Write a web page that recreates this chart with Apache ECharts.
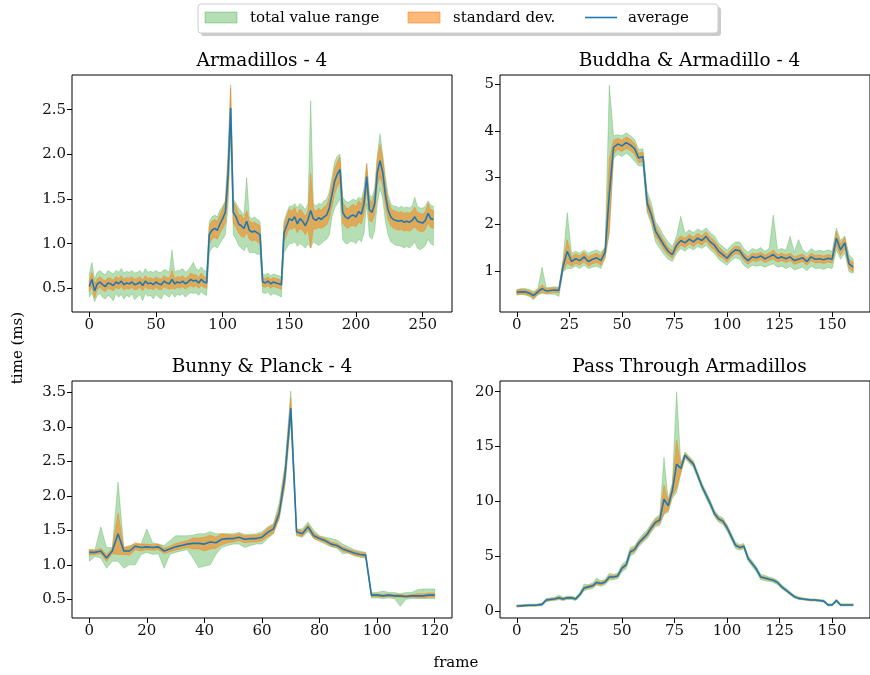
<!DOCTYPE html>
<html>
<head>
<meta charset="utf-8">
<script src="https://cdn.jsdelivr.net/npm/echarts@6/dist/echarts.min.js"></script>
<style>
html, body { margin: 0; padding: 0; background: #fff; }
#chart { width: 870px; height: 675px; }
</style>
</head>
<body>
<div id="chart"></div>
<script>
// every panel is sampled every 2 frames
const frameStep = 2;

// Armadillos - 4 (frames 0..258)
const armAvg = [0.52,0.60,0.47,0.55,0.57,0.54,0.52,0.56,0.55,0.53,0.57,0.55,0.58,0.54,0.56,0.55,0.57,0.54,0.55,0.57,0.53,0.58,0.55,0.56,0.54,0.57,0.55,0.54,0.58,0.56,0.55,0.60,0.55,0.57,0.56,0.58,0.55,0.57,0.60,0.58,0.59,0.56,0.60,0.57,0.56,
  1.10,1.15,1.17,1.15,1.22,1.28,1.35,1.75,2.52,1.35,1.30,1.22,1.20,1.17,1.25,1.15,1.13,1.14,1.12,1.10,
  0.57,0.56,0.58,0.55,0.57,0.56,0.55,0.54,
  1.12,1.20,1.28,1.26,1.30,1.22,1.28,1.25,1.20,1.27,1.37,1.28,1.26,1.29,1.27,1.30,1.32,1.40,1.55,1.70,1.78,1.83,1.35,1.30,1.28,1.31,1.32,1.30,1.36,1.33,1.45,1.75,1.38,1.35,1.45,1.80,1.93,1.80,1.55,1.38,1.30,1.27,1.26,1.25,1.26,1.24,1.25,1.24,1.26,1.30,1.25,1.24,1.23,1.26,1.34,1.28,1.27];
const armSd = [0.06,0.08,0.08,0.06,0.06,0.06,0.06,0.06,0.06,0.06,0.06,0.06,0.06,0.06,0.06,0.06,0.06,0.06,0.06,0.06,0.06,0.06,0.06,0.06,0.06,0.06,0.06,0.06,0.06,0.06,0.06,0.10,0.06,0.06,0.06,0.06,0.06,0.06,0.07,0.07,0.06,0.06,0.07,0.06,0.06,
  0.10,0.10,0.10,0.10,0.10,0.11,0.12,0.20,0.22,0.12,0.12,0.10,0.12,0.10,0.12,0.10,0.10,0.10,0.10,0.10,
  0.05,0.05,0.05,0.05,0.05,0.05,0.05,0.05,
  0.10,0.10,0.11,0.10,0.11,0.10,0.11,0.10,0.10,0.11,0.42,0.11,0.10,0.11,0.10,0.11,0.11,0.12,0.13,0.14,0.14,0.14,0.12,0.11,0.11,0.11,0.12,0.11,0.12,0.11,0.12,0.14,0.12,0.11,0.12,0.15,0.18,0.15,0.13,0.11,0.10,0.10,0.10,0.10,0.10,0.10,0.10,0.10,0.10,0.11,0.10,0.10,0.10,0.10,0.11,0.10,0.10];
const armMin = [0.40,0.45,0.35,0.42,0.44,0.40,0.38,0.42,0.40,0.36,0.44,0.40,0.43,0.38,0.42,0.40,0.44,0.37,0.40,0.43,0.36,0.44,0.41,0.42,0.38,0.43,0.40,0.38,0.44,0.42,0.40,0.45,0.40,0.43,0.42,0.44,0.40,0.43,0.45,0.44,0.45,0.42,0.46,0.43,0.42,
  0.90,0.95,0.97,0.95,1.00,1.05,1.10,1.40,2.20,1.10,1.05,0.98,0.95,0.92,0.98,0.90,0.90,0.90,0.88,0.88,
  0.45,0.44,0.46,0.42,0.44,0.43,0.42,0.40,
  0.90,0.95,1.00,1.00,1.02,0.97,1.00,0.98,0.95,1.00,0.95,1.02,1.00,0.98,1.00,1.03,1.05,1.10,1.30,1.40,1.45,1.50,1.05,1.00,1.00,1.03,1.02,1.00,1.05,1.02,1.12,1.45,1.08,1.05,1.15,1.45,1.62,1.50,1.25,1.10,1.02,1.00,0.98,0.98,0.97,0.95,0.97,0.95,0.98,1.02,0.95,0.93,0.95,0.98,1.05,1.00,0.98];
const armMax = [0.66,0.79,0.60,0.68,0.70,0.67,0.65,0.70,0.68,0.66,0.70,0.68,0.72,0.67,0.69,0.68,0.70,0.67,0.68,0.70,0.66,0.72,0.68,0.69,0.68,0.70,0.68,0.68,0.71,0.70,0.68,0.93,0.68,0.70,0.70,0.72,0.68,0.70,0.74,0.79,0.72,0.70,0.74,0.70,0.69,
  1.25,1.30,1.32,1.30,1.38,1.42,1.48,2.00,2.78,1.50,1.45,1.40,1.36,1.32,1.74,1.30,1.28,1.30,1.27,1.25,
  0.66,0.65,0.67,0.64,0.66,0.65,0.64,0.63,
  1.25,1.35,1.42,1.42,1.45,1.40,1.45,1.42,1.38,1.45,2.60,1.45,1.42,1.45,1.44,1.48,1.50,1.58,1.75,1.92,1.98,2.00,1.52,1.48,1.46,1.48,1.50,1.48,1.52,1.50,1.62,1.90,1.55,1.52,1.62,2.00,2.23,2.00,1.75,1.55,1.45,1.42,1.42,1.40,1.42,1.40,1.41,1.40,1.42,1.52,1.42,1.40,1.40,1.42,1.48,1.43,1.42];

// Buddha & Armadillo - 4 (frames 0..160)
const budAvg = [0.54,0.55,0.55,0.52,0.47,0.55,0.62,0.57,0.58,0.59,0.58,1.10,1.42,1.20,1.26,1.22,1.30,1.20,1.25,1.28,1.22,1.40,2.65,3.65,3.72,3.68,3.75,3.70,3.62,3.42,3.45,2.45,2.20,1.85,1.70,1.55,1.42,1.35,1.55,1.65,1.60,1.68,1.62,1.70,1.65,1.74,1.62,1.55,1.42,1.35,1.27,1.38,1.45,1.43,1.30,1.22,1.30,1.28,1.32,1.26,1.30,1.35,1.27,1.30,1.26,1.30,1.22,1.25,1.28,1.20,1.30,1.25,1.26,1.24,1.27,1.25,1.70,1.45,1.60,1.15,1.08];
const budSd = [0.05,0.05,0.05,0.05,0.06,0.05,0.08,0.05,0.05,0.05,0.05,0.10,0.25,0.10,0.10,0.10,0.10,0.10,0.10,0.10,0.10,0.12,0.75,0.15,0.12,0.12,0.12,0.12,0.12,0.10,0.10,0.15,0.12,0.12,0.10,0.10,0.08,0.08,0.10,0.10,0.10,0.10,0.10,0.10,0.10,0.10,0.10,0.10,0.10,0.08,0.08,0.08,0.08,0.08,0.08,0.08,0.08,0.08,0.08,0.08,0.08,0.10,0.08,0.08,0.08,0.08,0.08,0.08,0.08,0.08,0.08,0.08,0.08,0.08,0.08,0.08,0.15,0.12,0.12,0.10,0.10];
const budMin = [0.48,0.50,0.48,0.45,0.38,0.48,0.52,0.50,0.50,0.50,0.45,0.98,1.05,1.05,1.10,1.05,1.12,1.05,1.08,1.10,1.05,1.28,1.80,3.40,3.50,3.45,3.52,3.45,3.35,3.25,3.25,2.25,2.00,1.62,1.48,1.35,1.25,1.20,1.38,1.48,1.42,1.50,1.45,1.52,1.48,1.55,1.45,1.38,1.25,1.18,1.12,1.22,1.28,1.25,1.12,1.05,1.12,1.10,1.12,1.08,1.12,1.15,1.08,1.10,1.05,1.10,1.02,1.05,1.08,1.00,1.10,1.05,1.06,1.03,1.08,1.05,1.45,1.25,1.38,0.98,0.95];
const budMax = [0.60,0.62,0.62,0.60,0.56,0.62,1.08,0.64,0.65,0.66,0.64,1.25,2.25,1.38,1.42,1.38,1.45,1.38,1.42,1.45,1.40,1.50,4.98,3.90,3.92,3.90,3.96,3.90,3.82,3.60,3.62,2.70,2.45,2.05,1.92,1.75,1.62,1.52,1.75,2.17,1.80,1.88,1.82,1.90,1.85,1.92,1.82,1.75,1.60,1.52,1.45,1.55,1.62,1.62,1.48,1.40,1.48,1.45,1.50,1.42,1.48,2.20,1.45,1.48,1.44,1.74,1.40,1.67,1.45,1.38,1.48,1.42,1.44,1.42,1.45,1.42,1.92,1.65,1.75,1.35,1.25];

// Bunny & Planck - 4 (frames 0..120)
const bunAvg = [1.18,1.18,1.20,1.10,1.20,1.45,1.20,1.20,1.27,1.25,1.26,1.25,1.26,1.20,1.23,1.26,1.28,1.30,1.31,1.31,1.30,1.33,1.32,1.37,1.38,1.38,1.40,1.37,1.38,1.38,1.40,1.47,1.52,1.75,2.30,3.27,1.48,1.45,1.55,1.42,1.38,1.35,1.30,1.28,1.23,1.20,1.17,1.15,1.14,0.56,0.56,0.55,0.56,0.55,0.55,0.54,0.55,0.55,0.55,0.56,0.56];
const bunSd = [0.04,0.03,0.04,0.05,0.04,0.30,0.05,0.06,0.05,0.05,0.04,0.04,0.04,0.04,0.04,0.05,0.05,0.05,0.08,0.08,0.10,0.10,0.08,0.08,0.06,0.05,0.05,0.05,0.05,0.05,0.05,0.06,0.06,0.08,0.12,0.15,0.04,0.04,0.04,0.04,0.03,0.03,0.03,0.03,0.03,0.03,0.03,0.03,0.03,0.02,0.02,0.02,0.02,0.02,0.02,0.02,0.02,0.03,0.03,0.03,0.03];
const bunMin = [1.05,1.12,1.10,0.95,1.05,1.05,0.95,1.00,1.00,1.15,1.18,1.15,1.16,0.95,1.15,1.18,1.20,1.22,1.10,0.96,0.98,1.00,1.15,1.25,1.28,1.30,1.30,1.25,1.28,1.30,1.30,1.38,1.45,1.68,2.15,3.10,1.42,1.40,1.48,1.38,1.34,1.30,1.26,1.24,1.16,1.17,1.13,1.11,1.10,0.52,0.52,0.51,0.52,0.51,0.40,0.50,0.51,0.51,0.51,0.51,0.51];
const bunMax = [1.22,1.22,1.55,1.25,1.25,2.20,1.25,1.28,1.30,1.30,1.52,1.32,1.30,1.28,1.35,1.42,1.42,1.42,1.43,1.45,1.45,1.48,1.45,1.45,1.45,1.45,1.47,1.44,1.44,1.45,1.48,1.55,1.60,1.90,2.45,3.52,1.52,1.52,1.62,1.50,1.42,1.40,1.38,1.36,1.30,1.26,1.22,1.20,1.18,0.60,0.60,0.62,0.60,0.60,0.58,0.60,0.60,0.64,0.65,0.65,0.65];

// Pass Through Armadillos (frames 0..160)
const passAvg = [0.45,0.47,0.50,0.52,0.52,0.55,0.60,1.00,1.05,1.10,1.20,1.10,1.20,1.20,1.10,1.50,2.10,2.20,2.30,2.60,2.50,2.65,3.10,3.10,3.20,3.90,4.20,5.40,5.60,6.20,6.60,7.00,7.60,8.10,8.30,10.20,9.60,11.00,13.40,13.00,14.20,13.80,13.40,12.40,11.40,10.60,9.80,8.90,8.40,8.20,7.60,6.80,6.00,5.80,5.90,4.80,4.30,3.80,3.10,3.00,2.90,2.80,2.60,2.20,1.90,1.60,1.30,1.15,1.10,1.05,1.00,1.00,0.95,0.90,0.55,0.55,0.95,0.55,0.55,0.55,0.55];
const passSd = [0.06,0.06,0.06,0.06,0.06,0.06,0.06,0.08,0.08,0.08,0.10,0.08,0.08,0.08,0.08,0.10,0.12,0.12,0.12,0.15,0.12,0.12,0.15,0.12,0.12,0.15,0.15,0.18,0.18,0.18,0.20,0.20,0.25,0.25,0.30,1.30,0.40,0.50,2.20,0.35,0.20,0.18,0.18,0.15,0.15,0.15,0.15,0.15,0.15,0.15,0.15,0.15,0.12,0.12,0.12,0.12,0.10,0.10,0.10,0.10,0.08,0.08,0.08,0.08,0.08,0.08,0.06,0.06,0.06,0.06,0.06,0.06,0.06,0.06,0.05,0.05,0.08,0.05,0.05,0.05,0.05];
const passMin = [0.35,0.38,0.40,0.42,0.42,0.45,0.48,0.85,0.92,0.95,1.02,0.95,1.05,1.05,0.95,1.30,1.85,1.95,2.05,2.35,2.25,2.40,2.80,2.85,2.95,3.55,3.85,5.00,5.25,5.85,6.25,6.60,7.20,7.70,7.80,8.80,9.00,10.30,10.80,12.50,13.90,13.50,13.10,12.10,11.10,10.30,9.50,8.60,8.10,7.90,7.30,6.50,5.70,5.55,5.65,4.55,4.05,3.55,2.85,2.75,2.70,2.60,2.40,2.02,1.75,1.45,1.18,1.05,1.00,0.95,0.90,0.90,0.85,0.80,0.45,0.45,0.80,0.45,0.45,0.45,0.45];
const passMax = [0.55,0.58,0.60,0.62,0.62,0.65,0.72,1.15,1.20,1.25,1.45,1.25,1.35,1.35,1.25,1.70,2.45,2.40,2.55,3.00,2.75,2.90,3.45,3.35,3.45,4.25,4.55,5.80,5.95,6.55,7.00,7.40,8.00,8.50,8.80,14.00,10.20,11.70,20.00,13.50,14.50,14.10,13.70,12.70,11.70,10.90,10.10,9.20,8.70,8.50,7.90,7.10,6.30,6.05,6.15,5.05,4.55,4.05,3.35,3.25,3.10,3.00,2.80,2.40,2.10,1.75,1.45,1.30,1.20,1.15,1.10,1.10,1.05,1.00,0.65,0.65,1.10,0.65,0.65,0.65,0.65];

const titles = ['Armadillos - 4', 'Buddha & Armadillo - 4', 'Bunny & Planck - 4', 'Pass Through Armadillos'];
const xTicks = [[0,50,100,150,200,250], [0,25,50,75,100,125,150], [0,20,40,60,80,100,120], [0,25,50,75,100,125,150]];
const yTicks = [[0.5,1.0,1.5,2.0,2.5], [1,2,3,4,5], [0.5,1.0,1.5,2.0,2.5,3.0,3.5], [0,5,10,15,20]];
const legendNames = ['total value range', 'standard dev.', 'average'];

const FONT = 'DejaVu Serif';
const BLUE = '#1f77b4';
const GREEN_FILL = 'rgba(44,160,44,0.35)';
const ORANGE_FILL = 'rgba(255,127,14,0.55)';

const panels = [
  { avg: armAvg, sd: armSd, lo: armMin, hi: armMax, grid: [72, 75, 380, 237], x: [-12.95, 271.95], y: [0.234, 2.889], yDec: 1 },
  { avg: budAvg, sd: budSd, lo: budMin, hi: budMax, grid: [500, 75, 379, 237], x: [-8, 168], y: [0.118, 5.2], yDec: 0 },
  { avg: bunAvg, sd: bunSd, lo: bunMin, hi: bunMax, grid: [72, 381, 380, 237], x: [-6, 126], y: [0.229, 3.664], yDec: 1 },
  { avg: passAvg, sd: passSd, lo: passMin, hi: passMax, grid: [500, 381, 379, 237], x: [-8, 168], y: [-0.64, 20.98], yDec: 0 }
];

const chart = echarts.init(document.getElementById('chart'), null, { renderer: 'canvas' });

const grids = [], xAxes = [], yAxes = [], series = [];
const tickLabel = { fontFamily: FONT, fontSize: 15, color: '#111' };

// filled band between two value lists, drawn as one polygon through the axis scales
function band(k, frames, lower, upper, fill) {
  return {
    type: 'custom', xAxisIndex: k, yAxisIndex: k, silent: true, clip: true, animation: false,
    data: [[frames[0], lower[0]]],
    renderItem: (params, api) => {
      const pts = [];
      for (let i = 0; i < frames.length; i++) pts.push(api.coord([frames[i], upper[i]]));
      for (let i = frames.length - 1; i >= 0; i--) pts.push(api.coord([frames[i], lower[i]]));
      return { type: 'polygon', shape: { points: pts }, style: { fill: fill, stroke: fill, lineWidth: 0.8 } };
    }
  };
}

panels.forEach((p, k) => {
  const [gl, gt, gw, gh] = p.grid;
  grids.push({ left: gl, top: gt, width: gw, height: gh, show: true, borderColor: '#000', borderWidth: 1, backgroundColor: 'transparent' });
  xAxes.push({
    type: 'value', gridIndex: k, min: p.x[0], max: p.x[1],
    axisLine: { show: false, onZero: false }, splitLine: { show: false },
    axisTick: { show: true, length: 5, customValues: xTicks[k], lineStyle: { color: '#000' } },
    axisLabel: { customValues: xTicks[k], margin: 6, ...tickLabel }
  });
  yAxes.push({
    type: 'value', gridIndex: k, min: p.y[0], max: p.y[1],
    axisLine: { show: false, onZero: false }, splitLine: { show: false },
    axisTick: { show: true, length: 5, customValues: yTicks[k], lineStyle: { color: '#000' } },
    axisLabel: { customValues: yTicks[k], margin: 6, formatter: v => v.toFixed(p.yDec), ...tickLabel }
  });

  const fr = p.avg.map((v, i) => i * frameStep);
  const sdLo = p.avg.map((v, i) => v - p.sd[i]);
  const sdHi = p.avg.map((v, i) => v + p.sd[i]);
  series.push(band(k, fr, p.lo, p.hi, GREEN_FILL));
  series.push(band(k, fr, sdLo, sdHi, ORANGE_FILL));
  series.push({ type: 'line', xAxisIndex: k, yAxisIndex: k, symbol: 'none', silent: true, animation: false,
    data: p.avg.map((v, i) => [fr[i], v]), lineStyle: { color: BLUE, width: 1.6 } });
});

// titles as plain centred text
const titleTexts = panels.map((p, k) => ({
  type: 'text', x: p.grid[0] + p.grid[2] / 2, y: p.grid[1] - 4,
  style: { text: titles[k], fontFamily: FONT, fontSize: 18.5, fill: '#000', align: 'center', verticalAlign: 'bottom' }
}));

// legend box
const legend = [
  { type: 'rect', shape: { x: 201, y: 7, width: 520, height: 29, r: 3 }, style: { fill: '#999', opacity: 0.5 } },
  { type: 'rect', shape: { x: 198, y: 4, width: 520, height: 29, r: 3 }, style: { fill: '#fff', stroke: '#ccc', lineWidth: 1 } },
  { type: 'rect', shape: { x: 205, y: 12, width: 32, height: 11 }, style: { fill: GREEN_FILL, stroke: GREEN_FILL, lineWidth: 1 } },
  { type: 'text', x: 250, y: 18, style: { text: legendNames[0], fontFamily: FONT, fontSize: 15, fill: '#000', verticalAlign: 'middle' } },
  { type: 'rect', shape: { x: 408, y: 12, width: 32, height: 11 }, style: { fill: ORANGE_FILL, stroke: ORANGE_FILL, lineWidth: 1 } },
  { type: 'text', x: 453, y: 18, style: { text: legendNames[1], fontFamily: FONT, fontSize: 15, fill: '#000', verticalAlign: 'middle' } },
  { type: 'line', shape: { x1: 585, y1: 17.5, x2: 617, y2: 17.5 }, style: { stroke: BLUE, lineWidth: 1.6 } },
  { type: 'text', x: 628, y: 18, style: { text: legendNames[2], fontFamily: FONT, fontSize: 15, fill: '#000', verticalAlign: 'middle' } }
];

const axisNames = [
  { type: 'text', x: 18, y: 348, rotation: Math.PI / 2,
    style: { text: 'time (ms)', fontFamily: FONT, fontSize: 15, fill: '#000', align: 'center', verticalAlign: 'middle' } },
  { type: 'text', x: 456, y: 663,
    style: { text: 'frame', fontFamily: FONT, fontSize: 15, fill: '#000', align: 'center', verticalAlign: 'middle' } }
];

chart.setOption({
  animation: false,
  grid: grids,
  xAxis: xAxes,
  yAxis: yAxes,
  series: series,
  graphic: titleTexts.concat(legend, axisNames)
});
</script>
</body>
</html>
